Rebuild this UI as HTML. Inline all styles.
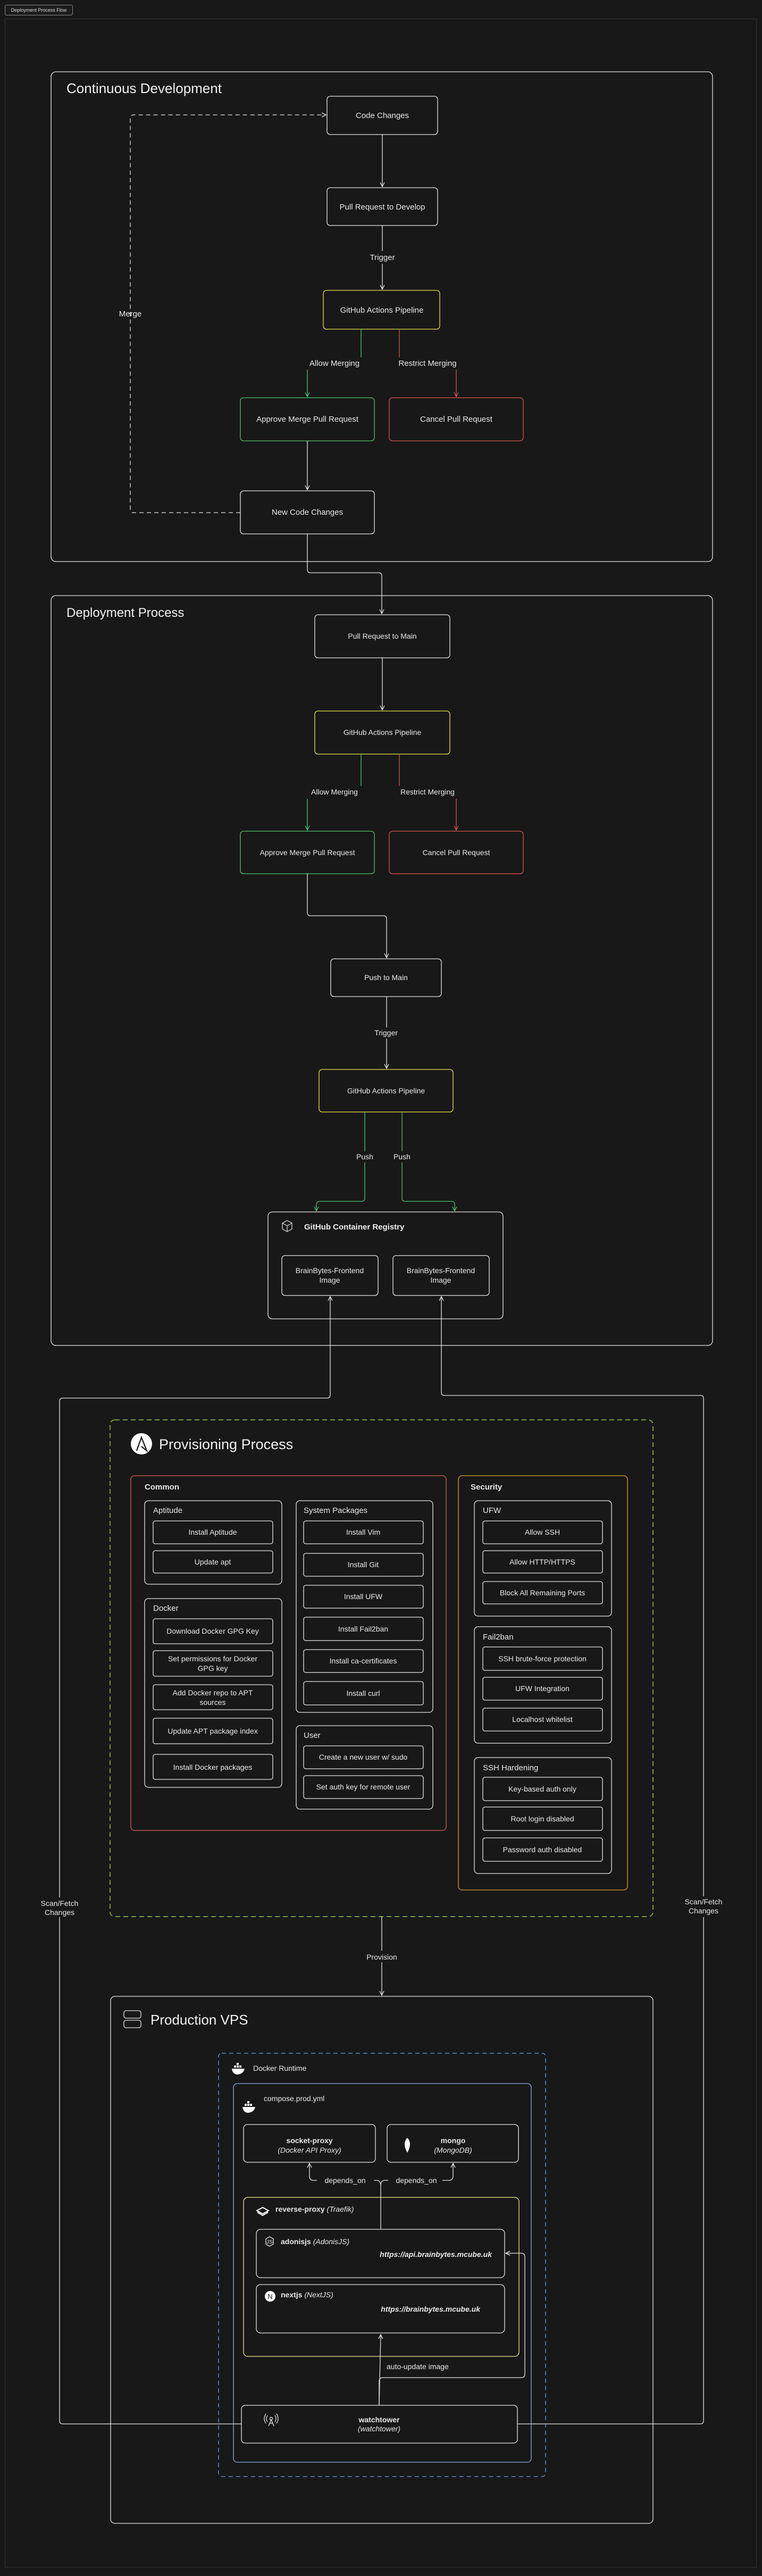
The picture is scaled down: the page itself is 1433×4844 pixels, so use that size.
<!DOCTYPE html>
<html><head><meta charset="utf-8"><style>
html,body{margin:0;padding:0;background:#181818;}
svg{display:block;font-family:"Liberation Sans",sans-serif;}
</style></head><body>
<svg width="1433" height="4844" viewBox="0 0 1433 4844" xmlns="http://www.w3.org/2000/svg">
<defs>
<marker id="aw" viewBox="0 0 10 10" refX="9" refY="5" markerWidth="10" markerHeight="10" markerUnits="userSpaceOnUse" orient="auto"><path d="M1,1 L9,5 L1,9" fill="none" stroke="#e6e6e6" stroke-width="1.3"/></marker>
<marker id="ag" viewBox="0 0 10 10" refX="9" refY="5" markerWidth="10" markerHeight="10" markerUnits="userSpaceOnUse" orient="auto"><path d="M1,1 L9,5 L1,9" fill="none" stroke="#4fc46e" stroke-width="1.3"/></marker>
<marker id="ar" viewBox="0 0 10 10" refX="9" refY="5" markerWidth="10" markerHeight="10" markerUnits="userSpaceOnUse" orient="auto"><path d="M1,1 L9,5 L1,9" fill="none" stroke="#d9534f" stroke-width="1.3"/></marker>
</defs>
<rect width="1433" height="4844" fill="#181818"/>
<!-- title label -->
<rect x="9.5" y="9.5" width="127" height="19" rx="3" fill="#1c1c1c" stroke="#888"/>
<text x="73" y="22" font-size="9" fill="#ddd" text-anchor="middle">Deployment Process Flow</text>
<rect x="9.5" y="35.5" width="1413" height="4792" fill="none" stroke="#333"/>

<g fill="none" stroke="#e6e6e6" stroke-width="1.3">
<!-- Continuous Development -->
<rect x="96" y="135" width="1244" height="921" rx="9"/>
<rect x="615" y="181" width="208" height="72" rx="6"/>
<rect x="615" y="353" width="208" height="71" rx="6"/>
<rect x="608" y="546" width="219" height="73" rx="6" stroke="#e6e34a"/>
<rect x="452" y="748" width="252" height="81" rx="6" stroke="#4fc46e"/>
<rect x="732" y="748" width="252" height="81" rx="6" stroke="#d9534f"/>
<rect x="452" y="923" width="252" height="81" rx="6"/>
<line x1="719" y1="253" x2="719" y2="351" marker-end="url(#aw)"/>
<line x1="719" y1="424" x2="719" y2="472"/>
<line x1="719" y1="496" x2="719" y2="544" marker-end="url(#aw)"/>
<line x1="679" y1="619" x2="679" y2="672" stroke="#4fc46e"/>
<line x1="578" y1="695" x2="578" y2="746" stroke="#4fc46e" marker-end="url(#ag)"/>
<line x1="751" y1="619" x2="751" y2="672" stroke="#d9534f"/>
<line x1="858" y1="695" x2="858" y2="746" stroke="#d9534f" marker-end="url(#ar)"/>
<line x1="578" y1="829" x2="578" y2="921" marker-end="url(#aw)"/>
<path d="M452,964 H251 Q245,964 245,958 V222 Q245,216 251,216 H613" stroke-dasharray="8,6" marker-end="url(#aw)"/>
<path d="M578,1004 V1071 Q578,1077 584,1077 H712 Q718,1077 718,1083 V1154" marker-end="url(#aw)"/>

<!-- Deployment Process -->
<rect x="96" y="1120" width="1244" height="1410" rx="9"/>
<rect x="592" y="1156" width="254" height="81" rx="6"/>
<rect x="592" y="1337" width="254" height="81" rx="6" stroke="#e6e34a"/>
<rect x="452" y="1563" width="252" height="80" rx="6" stroke="#4fc46e"/>
<rect x="732" y="1563" width="252" height="80" rx="6" stroke="#d9534f"/>
<rect x="622" y="1803" width="208" height="71" rx="6"/>
<rect x="600" y="2011" width="252" height="80" rx="6" stroke="#e6e34a"/>
<rect x="504" y="2279" width="442" height="201" rx="8"/>
<rect x="530" y="2361" width="181" height="75" rx="6"/>
<rect x="739" y="2361" width="181" height="75" rx="6"/>
<line x1="719" y1="1237" x2="719" y2="1335" marker-end="url(#aw)"/>
<line x1="679" y1="1418" x2="679" y2="1478" stroke="#4fc46e"/>
<line x1="578" y1="1502" x2="578" y2="1561" stroke="#4fc46e" marker-end="url(#ag)"/>
<line x1="751" y1="1418" x2="751" y2="1478" stroke="#d9534f"/>
<line x1="858" y1="1502" x2="858" y2="1561" stroke="#d9534f" marker-end="url(#ar)"/>
<path d="M578,1643 V1716 Q578,1722 584,1722 H721 Q727,1722 727,1728 V1801" marker-end="url(#aw)"/>
<line x1="727" y1="1874" x2="727" y2="1932"/>
<line x1="727" y1="1953" x2="727" y2="2009" marker-end="url(#aw)"/>
<path d="M686,2091 V2165 M686,2186 V2253 Q686,2259 680,2259 H601 Q595,2259 595,2265 V2277" stroke="#4fc46e" marker-end="url(#ag)"/>
<path d="M756,2091 V2165 M756,2186 V2253 Q756,2259 762,2259 H849 Q855,2259 855,2265 V2277" stroke="#4fc46e" marker-end="url(#ag)"/>

<!-- scan/fetch lines -->
<path d="M454,4558 H118 Q112,4558 112,4552 V3605 M112,3568 V2635 Q112,2629 118,2629 H615 Q621,2629 621,2623 V2438" marker-end="url(#aw)"/>
<path d="M973,4558 H1317 Q1323,4558 1323,4552 V3605 M1323,3566 V2630 Q1323,2624 1317,2624 H836 Q830,2624 830,2618 V2438" marker-end="url(#aw)"/>

<!-- Provisioning -->
<rect x="207" y="2670" width="1021" height="934" rx="9" stroke="#7a9a3a" stroke-width="2" stroke-dasharray="9,6"/>
<rect x="246" y="2775" width="593" height="667" rx="7" stroke="#d9605a"/>
<rect x="862" y="2775" width="318" height="779" rx="7" stroke="#e0a030"/>
<rect x="272" y="2822" width="258" height="157" rx="7"/>
<rect x="288" y="2860" width="225" height="43" rx="4"/>
<rect x="288" y="2916" width="225" height="42" rx="4"/>
<rect x="272" y="3006" width="258" height="355" rx="7"/>
<rect x="288" y="3044" width="225" height="47" rx="4"/>
<rect x="288" y="3104" width="225" height="48" rx="4"/>
<rect x="288" y="3168" width="225" height="47" rx="4"/>
<rect x="288" y="3231" width="225" height="48" rx="4"/>
<rect x="288" y="3299" width="225" height="47" rx="4"/>
<rect x="557" y="2822" width="257" height="398" rx="7"/>
<rect x="571" y="2860" width="225" height="43" rx="4"/>
<rect x="571" y="2921" width="225" height="43" rx="4"/>
<rect x="571" y="2981" width="225" height="43" rx="4"/>
<rect x="571" y="3041" width="225" height="44" rx="4"/>
<rect x="571" y="3102" width="225" height="43" rx="4"/>
<rect x="571" y="3162" width="225" height="44" rx="4"/>
<rect x="557" y="3245" width="257" height="157" rx="7"/>
<rect x="571" y="3283" width="225" height="43" rx="4"/>
<rect x="571" y="3339" width="225" height="43" rx="4"/>
<rect x="892" y="2822" width="258" height="217" rx="7"/>
<rect x="908" y="2860" width="225" height="43" rx="4"/>
<rect x="908" y="2916" width="225" height="42" rx="4"/>
<rect x="908" y="2974" width="225" height="42" rx="4"/>
<rect x="892" y="3059" width="258" height="219" rx="7"/>
<rect x="908" y="3097" width="225" height="44" rx="4"/>
<rect x="908" y="3154" width="225" height="43" rx="4"/>
<rect x="908" y="3212" width="225" height="43" rx="4"/>
<rect x="892" y="3305" width="258" height="218" rx="7"/>
<rect x="908" y="3342" width="225" height="44" rx="4"/>
<rect x="908" y="3398" width="225" height="44" rx="4"/>
<rect x="908" y="3456" width="225" height="44" rx="4"/>
<line x1="718" y1="3604" x2="718" y2="3668"/>
<line x1="718" y1="3690" x2="718" y2="3752" marker-end="url(#aw)"/>

<!-- Production VPS -->
<rect x="208" y="3754" width="1020" height="991" rx="8"/>
<rect x="233" y="3781" width="32" height="14" rx="4"/>
<rect x="233" y="3799" width="32" height="14" rx="4"/>
<rect x="411" y="3861" width="615" height="796" rx="6" stroke="#6a9fe0" stroke-dasharray="8,6"/>
<rect x="439" y="3918" width="560" height="712" rx="7" stroke="#8ab0e0"/>
<rect x="458" y="3995" width="248" height="71" rx="7"/>
<rect x="728" y="3995" width="247" height="71" rx="7"/>
<rect x="458" y="4132" width="518" height="299" rx="8" stroke="#eee88a"/>
<rect x="482" y="4192" width="467" height="91" rx="8"/>
<rect x="482" y="4296" width="467" height="91" rx="8"/>
<rect x="454" y="4523" width="519" height="71" rx="7"/>
<path d="M716,4191 V4110 Q716,4100 708,4100 H703"/>
<path d="M596,4100 H589 Q582,4100 582,4092 V4068" marker-end="url(#aw)"/>
<path d="M716,4110 Q716,4100 724,4100 H730"/>
<path d="M832,4100 H844 Q852,4100 852,4092 V4068" marker-end="url(#aw)"/>
<line x1="713" y1="4523" x2="716" y2="4390" marker-end="url(#aw)"/>
<path d="M713,4523 V4478 Q713,4471 720,4471 H980 Q987,4471 987,4464 V4244 Q987,4237 980,4237 H951" marker-end="url(#aw)"/>
<!-- GCR icon -->
<path d="M531,2300 L540,2295 L549,2300 L549,2311 L540,2316 L531,2311 Z M531,2300 L540,2305 L549,2300 M540,2305 V2316" stroke-width="1.2"/>
<!-- watchtower icon -->
<circle cx="510" cy="4548" r="2.5"/>
<path d="M503,4542 Q499,4548 503,4554 M517,4542 Q521,4548 517,4554 M500,4539 Q494,4548 500,4557 M520,4539 Q526,4548 520,4557 M510,4550 L505,4562 M510,4550 L515,4562 M507,4557 H513"/>
<!-- adonis icon -->
<path d="M507,4206 L514,4210 V4220 L507,4224 L500,4220 V4210 Z"/>
</g>

<!-- icons filled -->
<circle cx="266" cy="2715" r="20" fill="#fff"/>
<path d="M257,2728 L266,2703 L276,2728 L266,2720" fill="none" stroke="#181818" stroke-width="2.2"/>
<circle cx="508" cy="4318" r="10" fill="#fff"/>
<text x="508" y="4323" font-size="13" fill="#181818" text-anchor="middle">N</text>
<path d="M766,4020 Q756,4030 766,4048 Q776,4030 766,4020 Z" fill="#fff"/>
<path d="M494,4151 L505,4157 L494,4163 L483,4157 Z M484,4160 L494,4166 L504,4160" fill="none" stroke="#fff" stroke-width="2"/>
<g fill="#fff">
<path d="M436,3890 H460 Q458,3900 446,3901 Q437,3900 436,3890 Z"/><rect x="440" y="3884" width="4" height="4"/><rect x="445" y="3884" width="4" height="4"/><rect x="450" y="3884" width="4" height="4"/><rect x="445" y="3879" width="4" height="4"/>
<path d="M456,3962 H480 Q478,3972 466,3973 Q457,3972 456,3962 Z"/><rect x="460" y="3956" width="4" height="4"/><rect x="465" y="3956" width="4" height="4"/><rect x="470" y="3956" width="4" height="4"/><rect x="465" y="3951" width="4" height="4"/>
</g>

<g fill="#e8e8e8" font-size="15" text-anchor="middle">
<text x="719" y="222">Code Changes</text>
<text x="719" y="394">Pull Request to Develop</text>
<text x="719" y="489">Trigger</text>
<text x="718" y="588">GitHub Actions Pipeline</text>
<text x="629" y="688">Allow Merging</text>
<text x="804" y="688">Restrict Merging</text>
<text x="578" y="793">Approve Merge Pull Request</text>
<text x="858" y="793">Cancel Pull Request</text>
<text x="578" y="968">New Code Changes</text>
<text x="245" y="595">Merge</text>
</g>
<g fill="#e8e8e8" font-size="14" text-anchor="middle">
<text x="719" y="1201">Pull Request to Main</text>
<text x="719" y="1382">GitHub Actions Pipeline</text>
<text x="629" y="1494">Allow Merging</text>
<text x="804" y="1494">Restrict Merging</text>
<text x="578" y="1608">Approve Merge Pull Request</text>
<text x="858" y="1608">Cancel Pull Request</text>
<text x="726" y="1843">Push to Main</text>
<text x="726" y="1947">Trigger</text>
<text x="726" y="2056">GitHub Actions Pipeline</text>
<text x="686" y="2180">Push</text>
<text x="756" y="2180">Push</text>
<text x="620" y="2394">BrainBytes-Frontend</text><text x="620" y="2412">Image</text>
<text x="829" y="2394">BrainBytes-Frontend</text><text x="829" y="2412">Image</text>
<text x="718" y="3685">Provision</text>
<text x="112" y="3584">Scan/Fetch</text><text x="112" y="3601">Changes</text>
<text x="1323" y="3581">Scan/Fetch</text><text x="1323" y="3598">Changes</text>
</g>
<text x="125" y="175" font-size="26" fill="#f0f0f0">Continuous Development</text>
<text x="125" y="1160" font-size="24" fill="#f0f0f0">Deployment Process</text>
<text x="572" y="2312" font-size="15" font-weight="bold" fill="#eee">GitHub Container Registry</text>
<text x="299" y="2725" font-size="27" fill="#f0f0f0">Provisioning Process</text>
<text x="283" y="3807" font-size="26" fill="#f0f0f0">Production VPS</text>

<g fill="#e8e8e8" font-size="15">
<text x="272" y="2801" font-weight="bold">Common</text>
<text x="885" y="2801" font-weight="bold">Security</text>
<text x="288" y="2845">Aptitude</text>
<text x="288" y="3029">Docker</text>
<text x="571" y="2845">System Packages</text>
<text x="571" y="3268">User</text>
<text x="908" y="2845">UFW</text>
<text x="908" y="3083">Fail2ban</text>
<text x="908" y="3329">SSH Hardening</text>
</g>
<g fill="#e8e8e8" font-size="14" text-anchor="middle">
<text x="400" y="2886">Install Aptitude</text>
<text x="400" y="2942">Update apt</text>
<text x="400" y="3072">Download Docker GPG Key</text>
<text x="400" y="3124">Set permissions for Docker</text><text x="400" y="3142">GPG key</text>
<text x="400" y="3188">Add Docker repo to APT</text><text x="400" y="3206">sources</text>
<text x="400" y="3260">Update APT package index</text>
<text x="400" y="3328">Install Docker packages</text>
<text x="683" y="2886">Install Vim</text>
<text x="683" y="2947">Install Git</text>
<text x="683" y="3007">Install UFW</text>
<text x="683" y="3068">Install Fail2ban</text>
<text x="683" y="3128">Install ca-certificates</text>
<text x="683" y="3189">Install curl</text>
<text x="683" y="3309">Create a new user w/ sudo</text>
<text x="683" y="3365">Set auth key for remote user</text>
<text x="1020" y="2886">Allow SSH</text>
<text x="1020" y="2942">Allow HTTP/HTTPS</text>
<text x="1020" y="3000">Block All Remaining Ports</text>
<text x="1020" y="3124">SSH brute-force protection</text>
<text x="1020" y="3180">UFW Integration</text>
<text x="1020" y="3238">Localhost whitelist</text>
<text x="1020" y="3369">Key-based auth only</text>
<text x="1020" y="3425">Root login disabled</text>
<text x="1020" y="3483">Password auth disabled</text>
</g>

<g fill="#e8e8e8" font-size="14">
<text x="476" y="3894">Docker Runtime</text>
<text x="496" y="3951">compose.prod.yml</text>
<text x="582" y="4030" text-anchor="middle" font-weight="bold">socket-proxy</text>
<text x="582" y="4048" text-anchor="middle" font-style="italic">(Docker API Proxy)</text>
<text x="852" y="4030" text-anchor="middle" font-weight="bold">mongo</text>
<text x="852" y="4048" text-anchor="middle" font-style="italic">(MongoDB)</text>
<text x="649" y="4105" text-anchor="middle">depends_on</text>
<text x="783" y="4105" text-anchor="middle">depends_on</text>
<text x="518" y="4159"><tspan font-weight="bold">reverse-proxy</tspan> <tspan font-style="italic">(Traefik)</tspan></text>
<text x="528" y="4220"><tspan font-weight="bold">adonisjs</tspan> <tspan font-style="italic">(AdonisJS)</tspan></text>
<text x="925" y="4244" text-anchor="end" font-style="italic" font-weight="bold">https://api.brainbytes.mcube.uk</text>
<text x="528" y="4320"><tspan font-weight="bold">nextjs</tspan> <tspan font-style="italic">(NextJS)</tspan></text>
<text x="903" y="4347" text-anchor="end" font-style="italic" font-weight="bold">https://brainbytes.mcube.uk</text>
<text x="727" y="4455">auto-update image</text>
<text x="713" y="4555" text-anchor="middle" font-weight="bold">watchtower</text>
<text x="713" y="4572" text-anchor="middle" font-style="italic">(watchtower)</text>
</g>
<text x="507" y="4219" font-size="10" fill="#e8e8e8" text-anchor="middle">JS</text>
</svg>
</body></html>
